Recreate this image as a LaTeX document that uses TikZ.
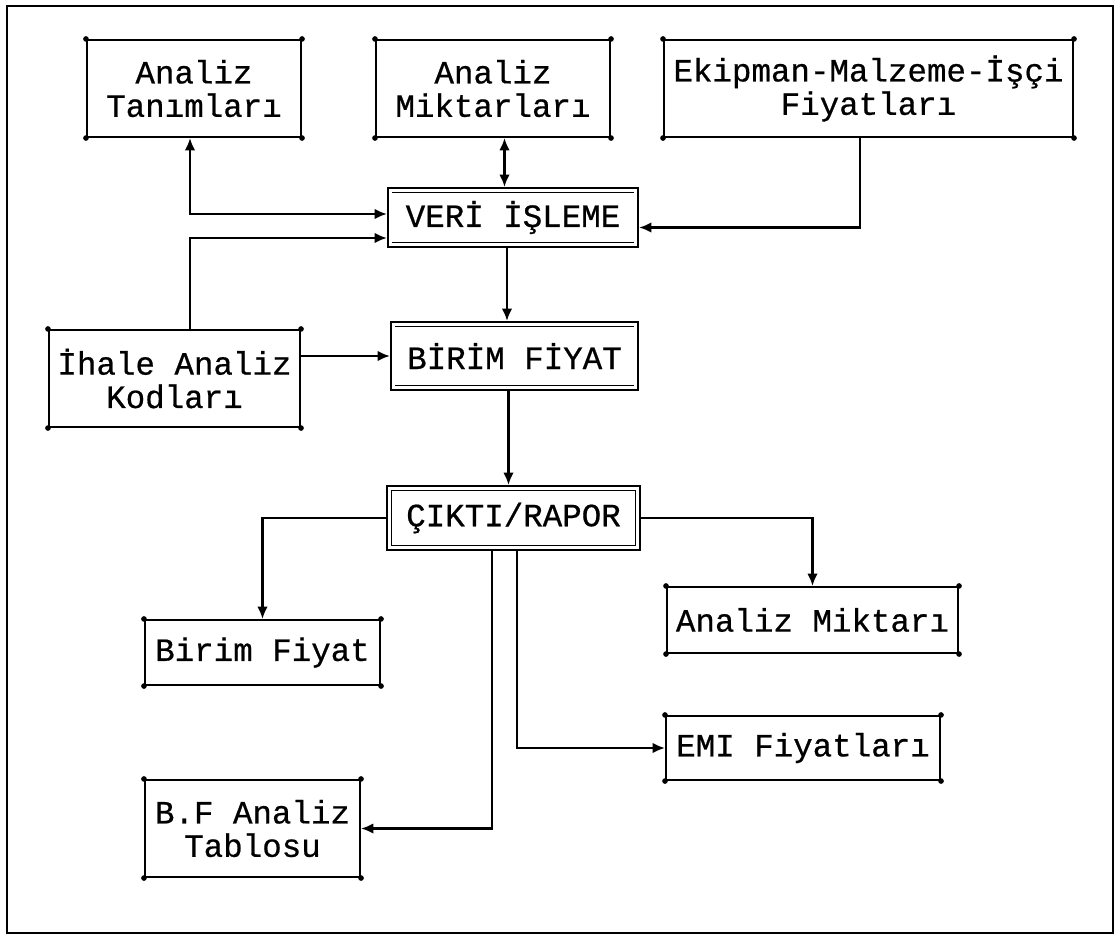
\documentclass[tikz,border=0pt]{standalone}
\usepackage{fontspec}
\usepackage{tikz}
\usetikzlibrary{arrows.meta, positioning, calc}
\newfontfamily\typerfont{Liberation Mono}[FakeBold=0.6]

\begin{document}
\begin{tikzpicture}[
    x=0.02cm, y=-0.02cm,
    >={Latex[length=7pt, width=6pt]},
    line width=1.2pt,
    % Styles for the boxes
    databox/.style={draw=black, line width=1.2pt, fill=white, inner sep=0pt, align=center,
        font=\typerfont\fontsize{18.5}{19}\selectfont},
    procbox/.style={databox, line width=1.3pt},
    flow/.style={draw=black, line width=1.2pt}
]
    \useasboundingbox (0,0) rectangle (1118,939);

    % 1. The outer frame
    \draw[line width=1.4pt] (7,6) rectangle (1113,933);

    % 2. Input boxes (top row and left)
    \node[databox, minimum width=4.28cm, minimum height=1.94cm] (tan) at (194,88.5) {Analiz\\Tanımları};
    \node[databox, minimum width=4.68cm, minimum height=1.94cm] (mik) at (493,88.5) {Analiz\\Miktarları};
    \node[databox, minimum width=8.18cm, minimum height=1.94cm] (ekp) at (868.5,88.5) {Ekipman-Malzeme-İşçi\\Fiyatları};
    \node[databox, minimum width=5.02cm, minimum height=1.94cm] (ihale) at (174.5,378.5) {İhale Analiz\\Kodları};

    % 3. Processing boxes (middle column)
    \node[procbox, minimum width=5.0cm, minimum height=1.18cm] (veri) at (513,217.5) {VERİ İŞLEME};
    \node[procbox, minimum width=4.94cm, minimum height=1.36cm] (birim) at (514.5,356) {BİRİM FİYAT};
    \node[procbox, minimum width=5.06cm, minimum height=1.28cm] (cikti) at (513.5,518) {ÇIKTI/RAPOR};

    % inner rules of the processing boxes
    \foreach \n in {veri,birim} {
        \draw[line width=0.6pt] ([shift={(3pt,-3pt)}]\n.north west) -- ([shift={(-3pt,-3pt)}]\n.north east);
        \draw[line width=0.6pt] ([shift={(3pt,3pt)}]\n.south west) -- ([shift={(-3pt,3pt)}]\n.south east);
    }
    \draw[line width=0.6pt] ([shift={(3pt,-3pt)}]cikti.north west) rectangle ([shift={(-3pt,3pt)}]cikti.south east);

    % 4. Output boxes
    \node[databox, minimum width=4.70cm, minimum height=1.30cm] (bf) at (262.5,652.5) {Birim Fiyat};
    \node[databox, minimum width=5.82cm, minimum height=1.32cm] (am) at (812.5,620) {Analiz Miktarı};
    \node[databox, minimum width=5.48cm, minimum height=1.28cm] (emi) at (803,748) {EMI Fiyatları};
    \node[databox, minimum width=4.30cm, minimum height=1.94cm] (bft) at (252.5,828.5) {B.F Analiz\\Tablosu};

    % corner dots of the plain boxes
    \foreach \n in {tan,mik,ekp,ihale,bf,am,emi,bft} {
        \foreach \a in {north west,north east,south west,south east} {
            \fill (\n.\a) circle (1.6pt);
        }
    }

    % 5. Connectors into VERI ISLEME
    \draw[flow, <->] ([xshift=-0.08cm]tan.south) |- ([yshift=0.07cm]veri.west);
    \draw[flow, ->] ([xshift=-0.08cm]ihale.north -| tan.south) |- ([yshift=-0.41cm]veri.west);
    \draw[flow, <->] ([xshift=-0.17cm]veri.north |- mik.south) -- ([xshift=-0.17cm]veri.north);
    \draw[flow, ->] ([xshift=-0.17cm]ekp.south) |- ([yshift=-0.2cm]veri.east);

    % 6. Down the middle column
    \draw[flow, ->] ([xshift=-0.12cm]veri.south) -- ([xshift=-0.12cm]veri.south |- birim.north);
    \draw[flow, ->] (birim.west -| ihale.east) -- (birim.west);
    \draw[flow, ->] ([xshift=-0.12cm]birim.south) -- ([xshift=-0.12cm]birim.south |- cikti.north);

    % 7. Reports out of CIKTI/RAPOR
    \draw[flow, ->] (cikti.west) -| (bf.north);
    \draw[flow, ->] (cikti.east) -| (am.north);
    \draw[flow, ->] ([xshift=-0.43cm]cikti.south) |- (bft.east);
    \draw[flow, ->] ([xshift=0.07cm]cikti.south) |- (emi.west);

\end{tikzpicture}
\end{document}
